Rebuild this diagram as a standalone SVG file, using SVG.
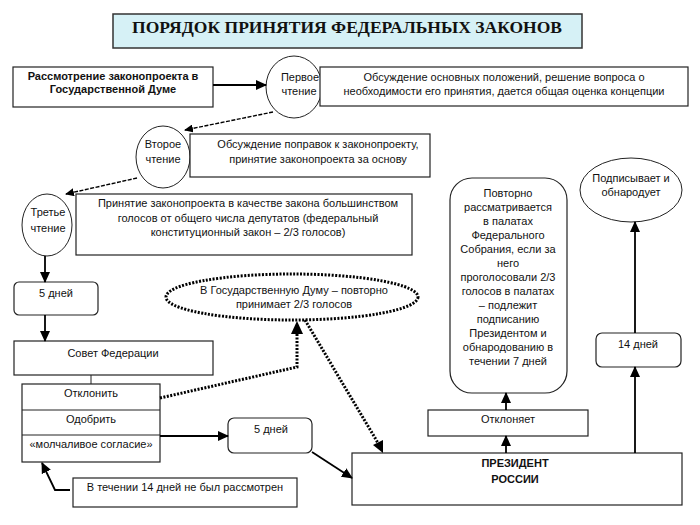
<svg xmlns="http://www.w3.org/2000/svg" width="700" height="525" viewBox="0 0 700 525">
<defs>
<marker id="ah" markerUnits="userSpaceOnUse" markerWidth="11" markerHeight="10" refX="10" refY="5" orient="auto"><path d="M0,0 L11,5 L0,10 z" fill="#000"/></marker>
<marker id="ahs" markerUnits="userSpaceOnUse" markerWidth="9" markerHeight="8" refX="8" refY="4" orient="auto"><path d="M0,0 L9,4 L0,8 z" fill="#000"/></marker>
<style>
.box{fill:#fff;stroke:#222;stroke-width:1.2}
.ell{fill:#fff;stroke:#222;stroke-width:1}
.t{font-family:"Liberation Sans",Arial,sans-serif;font-size:11px;fill:#111;text-anchor:middle}
.b{font-weight:bold}
.ttl{font-family:"Liberation Serif","Times New Roman",serif;font-weight:bold;font-size:17px;fill:#111;text-anchor:middle}
.c{fill:none;stroke:#000;stroke-width:1.8}
.d{fill:none;stroke:#000;stroke-width:1.4;stroke-dasharray:4 1.5}
.dot{fill:none;stroke:#000;stroke-width:3;stroke-dasharray:2 1.5}
</style>
</defs>
<rect width="700" height="525" fill="#fff"/>
<g id="title">
<rect x="113" y="14" width="469" height="34" fill="#d6f1f6" stroke="#333" stroke-width="1.5"/>
<text class="ttl" x="347" y="33" textLength="430" lengthAdjust="spacingAndGlyphs">ПОРЯДОК ПРИНЯТИЯ ФЕДЕРАЛЬНЫХ ЗАКОНОВ</text>
</g>
<g id="duma">
<rect class="box" x="13" y="67" width="200" height="40"/>
<text class="t b" x="113" y="80">Рассмотрение законопроекта в</text>
<text class="t b" x="113" y="93">Государственной Думе</text>
</g>
<g id="first">
<ellipse class="ell" cx="294" cy="87" rx="28" ry="31"/>
<text class="t" x="300" y="81">Первое</text>
<text class="t" x="299" y="95">чтение</text>
</g>
<g id="first-desc">
<rect class="box" x="320" y="67" width="368" height="39"/>
<text class="t" x="504" y="81">Обсуждение основных положений, решение вопроса о</text>
<text class="t" x="504" y="95">необходимости его принятия, дается общая оценка  концепции</text>
</g>
<g id="second">
<ellipse class="ell" cx="163" cy="157" rx="27" ry="31"/>
<text class="t" x="163" y="148">Второе</text>
<text class="t" x="163" y="163">чтение</text>
</g>
<g id="second-desc">
<rect class="box" x="190" y="134" width="240" height="43"/>
<text class="t" x="318" y="148">Обсуждение поправок к законопроекту,</text>
<text class="t" x="318" y="163">принятие законопроекта за основу</text>
</g>
<g id="third">
<ellipse class="ell" cx="47" cy="225" rx="25" ry="31"/>
<text class="t" x="48" y="216">Третье</text>
<text class="t" x="48" y="232">чтение</text>
</g>
<g id="third-desc">
<rect class="box" x="76" y="194" width="336" height="61"/>
<text class="t" x="248" y="207">Принятие законопроекта в качестве закона большинством</text>
<text class="t" x="248" y="222">голосов от общего числа депутатов (федеральный</text>
<text class="t" x="248" y="236">конституционный закон – 2/3 голосов)</text>
</g>
<g id="days5a">
<rect class="box" x="14" y="282" width="84" height="33" rx="5"/>
<text class="t" x="56" y="297">5 дней</text>
</g>
<g id="sovet">
<rect class="box" x="14" y="341" width="199" height="34"/>
<text class="t" x="113" y="357" font-size="13">Совет Федерации</text>
</g>
<g id="options">
<rect class="box" x="22" y="384" width="138" height="78"/>
<line x1="22" y1="410" x2="160" y2="410" stroke="#222" stroke-width="1"/>
<line x1="22" y1="435" x2="160" y2="435" stroke="#222" stroke-width="1"/>
<text class="t" x="91" y="397">Отклонить</text>
<text class="t" x="91" y="423">Одобрить</text>
<text class="t" x="91" y="448">«молчаливое согласие»</text>
</g>
<g id="not-considered">
<rect class="box" x="73" y="478" width="224" height="29"/>
<text class="t" x="185" y="491">В течении 14 дней не был рассмотрен</text>
</g>
<g id="duma-again">
<ellipse cx="292" cy="297" rx="126" ry="23" fill="#fff" class="dot"/>
<text class="t" x="294" y="294">В Государственную Думу – повторно</text>
<text class="t" x="294" y="308">принимает 2/3 голосов</text>
</g>
<g id="days5b">
<rect class="box" x="228" y="418" width="84" height="35" rx="6"/>
<text class="t" x="271" y="433">5 дней</text>
</g>
<g id="president">
<rect class="box" x="352" y="453" width="330" height="52"/>
<text class="t b" x="515" y="467" font-size="12">ПРЕЗИДЕНТ</text>
<text class="t b" x="515" y="483" font-size="12">РОССИИ</text>
</g>
<g id="rejects">
<rect class="box" x="428" y="410" width="160" height="26"/>
<text class="t" x="508" y="423">Отклоняет</text>
</g>
<g id="reconsider">
<rect class="box" x="450" y="178" width="117" height="215" rx="22"/>
<text class="t" x="508" y="197">Повторно</text>
<text class="t" x="508" y="211">рассматривается</text>
<text class="t" x="508" y="225">в палатах</text>
<text class="t" x="508" y="239">Федерального</text>
<text class="t" x="508" y="253">Собрания, если за</text>
<text class="t" x="508" y="267">него</text>
<text class="t" x="508" y="281">проголосовали 2/3</text>
<text class="t" x="508" y="295">голосов в палатах</text>
<text class="t" x="508" y="309">– подлежит</text>
<text class="t" x="508" y="323">подписанию</text>
<text class="t" x="508" y="337">Президентом и</text>
<text class="t" x="508" y="351">обнародованию в</text>
<text class="t" x="508" y="365">течении 7 дней</text>
</g>
<g id="days14">
<rect class="box" x="596" y="333" width="85" height="34" rx="6"/>
<text class="t" x="638" y="348">14 дней</text>
</g>
<g id="signs">
<ellipse class="ell" cx="631" cy="190" rx="51" ry="32"/>
<text class="t" x="631" y="182">Подписывает и</text>
<text class="t" x="631" y="196">обнародует</text>
</g>
<g id="connectors">
<line class="c" x1="213" y1="85" x2="266" y2="85" marker-end="url(#ah)"/>
<line class="d" x1="273" y1="112" x2="185" y2="130" marker-end="url(#ahs)"/>
<line class="d" x1="137" y1="178" x2="66" y2="194" marker-end="url(#ahs)"/>
<line class="c" x1="45" y1="256" x2="45" y2="282" marker-end="url(#ah)"/>
<line class="c" x1="45" y1="315" x2="45" y2="341" marker-end="url(#ah)"/>
<line x1="91" y1="375" x2="91" y2="384" stroke="#222" stroke-width="1"/>
<polyline class="dot" points="160,398 297,367 297,333"/>
<path d="M291,334 L297,321 L303,334 z" fill="#000"/>
<line class="dot" x1="305" y1="320" x2="378" y2="443"/>
<path d="M373,445 L383,453 L383,440 z" fill="#000"/>
<line class="c" x1="160" y1="436" x2="228" y2="436" stroke-width="1.2" marker-end="url(#ah)"/>
<line class="c" x1="312" y1="452" x2="352" y2="478" stroke-width="1.4" marker-end="url(#ah)"/>
<polyline class="c" points="70,490 55,490 42,463" marker-end="url(#ah)"/>
<line class="c" x1="506" y1="453" x2="506" y2="436" marker-end="url(#ah)"/>
<line class="c" x1="506" y1="410" x2="506" y2="393" marker-end="url(#ah)"/>
<line class="c" x1="635" y1="453" x2="635" y2="367" marker-end="url(#ah)"/>
<line class="c" x1="635" y1="333" x2="635" y2="222" marker-end="url(#ah)"/>
</g>
</svg>
